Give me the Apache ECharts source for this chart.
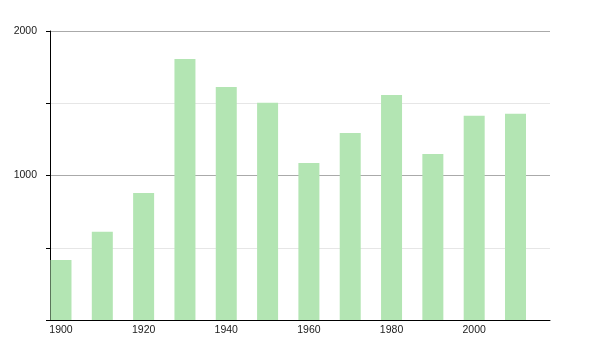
<!DOCTYPE html>
<html><head><meta charset="utf-8">
<script src="https://cdn.jsdelivr.net/npm/echarts@6/dist/echarts.min.js"></script>
<style>html,body{margin:0;padding:0;background:#fff}#c{width:600px;height:350px}</style>
</head><body><div id="c"></div>
<script>
const years = [1900,1910,1920,1930,1940,1950,1960,1970,1980,1990,2000,2010];
const population = [415,611,879,1806,1612,1504,1087,1294,1557,1149,1414,1428];
const xTickLabels = [1900,1920,1940,1960,1980,2000];
const yTickLabels = [1000,2000];

const chart = echarts.init(document.getElementById('c'));
const font = {fontFamily:'Liberation Sans, Arial, sans-serif', fontSize:10.5, color:'#1a1a1a'};
chart.setOption({
  animation:false,
  grid:{left:50, right:50, top:31, bottom:30},
  xAxis:{
    type:'value', min:1897.34, max:2018.35,
    axisLine:{show:true, lineStyle:{color:'#000', width:1}},
    axisTick:{show:false},
    splitLine:{show:false},
    axisLabel:Object.assign({customValues:xTickLabels, margin:5, formatter:v=>String(Math.round(v))}, font)
  },
  yAxis:[{
    type:'value', min:0, max:2000, interval:500,
    axisLine:{show:true, lineStyle:{color:'#000', width:1}},
    axisTick:{show:true, length:4, lineStyle:{color:'#000'}},
    splitLine:{show:true, lineStyle:{color:'#e6e6e6', width:1}},
    axisLabel:Object.assign({margin:13, formatter:v=>yTickLabels.includes(v)?String(v):''}, font)
  },{
    type:'value', min:0, max:2000, interval:1000, position:'left',
    axisLine:{show:false}, axisTick:{show:false}, axisLabel:{show:false},
    splitLine:{show:true, lineStyle:{color:'#aaaaaa', width:1}}
  }],
  series:[{
    type:'bar', yAxisIndex:0,
    data:years.map((y,i)=>[y,population[i]]),
    barWidth:21,
    itemStyle:{color:'#b3e5b3'},
    z:1
  }]
});
</script></body></html>
